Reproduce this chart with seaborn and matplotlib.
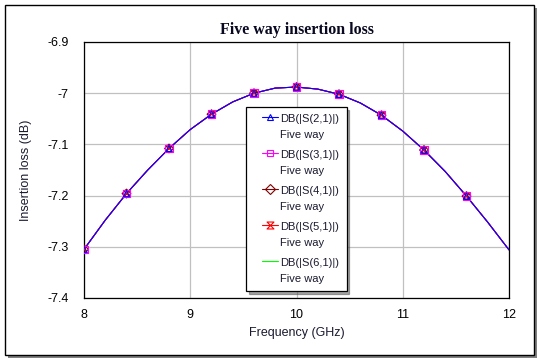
import matplotlib
matplotlib.use("Agg")
import matplotlib.pyplot as plt
import seaborn as sns
import pandas as pd
from matplotlib.lines import Line2D
from matplotlib.patches import Rectangle
from matplotlib.path import Path
from matplotlib.legend_handler import HandlerLine2D
from matplotlib.transforms import Affine2D

# ---- data ----
freq_line = [8.0, 8.2, 8.4, 8.6, 8.8, 9.0, 9.2, 9.4, 9.6, 9.8, 10.0,
             10.2, 10.4, 10.6, 10.8, 11.0, 11.2, 11.4, 11.6, 11.8, 12.0]
loss_line = [-7.305, -7.248, -7.196, -7.150, -7.108, -7.071, -7.041, -7.017, -7.000, -6.990, -6.988,
             -6.992, -7.002, -7.019, -7.043, -7.074, -7.111, -7.153, -7.201, -7.252, -7.306]
freq_marker = [8.0, 8.4, 8.8, 9.2, 9.6, 10.0, 10.4, 10.8, 11.2, 11.6]
loss_marker = [-7.305, -7.196, -7.108, -7.041, -7.000, -6.988, -7.002, -7.043, -7.111, -7.201]
series = ["DB(|S(2,1)|)", "DB(|S(3,1)|)", "DB(|S(4,1)|)", "DB(|S(5,1)|)", "DB(|S(6,1)|)"]
series_note = "Five way"
x_ticks = [8, 9, 10, 11, 12]
y_ticks = [-6.9, -7.0, -7.1, -7.2, -7.3, -7.4]
y_tick_labels = ["-6.9", "-7", "-7.1", "-7.2", "-7.3", "-7.4"]
title = "Five way insertion loss"
x_label = "Frequency (GHz)"
y_label = "Insertion loss (dB)"

hourglass = Path([(-1, 1), (1, 1), (-1, -1), (1, -1), (-1, 1)],
                 [Path.MOVETO, Path.LINETO, Path.LINETO, Path.LINETO, Path.CLOSEPOLY])
styles = {
    "DB(|S(2,1)|)": dict(color="#0000FF", marker="^"),
    "DB(|S(3,1)|)": dict(color="#FF00FF", marker="s"),
    "DB(|S(4,1)|)": dict(color="#800000", marker="D"),
    "DB(|S(5,1)|)": dict(color="#FF0000", marker=hourglass),
    "DB(|S(6,1)|)": dict(color="#00FF00", marker=None),
}

sns.set_theme(style="white")
plt.rcParams["font.family"] = ["Liberation Sans", "DejaVu Sans"]

fig = plt.figure(figsize=(5.38, 3.6), dpi=100)
ax = fig.add_axes([84 / 538, 1 - 298 / 360, 425 / 538, 256 / 360])

# draw order: green at bottom, blue on top
draw_order = ["DB(|S(6,1)|)", "DB(|S(5,1)|)", "DB(|S(4,1)|)", "DB(|S(3,1)|)", "DB(|S(2,1)|)"]
dfl = pd.DataFrame({"f": freq_line, "v": loss_line})
dfm = pd.DataFrame({"f": freq_marker, "v": loss_marker})
for i, name in enumerate(draw_order):
    st = styles[name]
    sns.lineplot(data=dfl, x="f", y="v", ax=ax, color=st["color"], lw=0.75, zorder=3 + i)
    if st["marker"] is not None:
        ax.scatter(dfm["f"], dfm["v"], marker=st["marker"], s=30 if st["marker"] == "s" else 20,
                   facecolors="none", edgecolors=st["color"], linewidths=0.8, zorder=10 + i)

ax.set_xlim(8, 12)
ax.set_ylim(-7.4, -6.9)
ax.set_xticks(x_ticks)
ax.set_xticklabels([str(t) for t in x_ticks])
ax.set_yticks(y_ticks)
ax.set_yticklabels(y_tick_labels)
ax.tick_params(axis="both", length=0, labelsize=9, colors="black")
ax.tick_params(axis="x", pad=8)
ax.tick_params(axis="y", pad=11)
ax.grid(True, color="#c0c0c0", lw=0.9)
ax.set_axisbelow(True)
for sp in ax.spines.values():
    sp.set_color("black")
    sp.set_linewidth(0.9)
ax.set_xlabel(x_label, fontsize=9, color="#1a1a30", labelpad=4)
ax.set_ylabel(y_label, fontsize=9, color="#1a1a30", labelpad=11)
ax.set_title(title, fontsize=11.5, fontweight="bold", family=["Liberation Serif", "DejaVu Serif"],
             color="#080820", pad=6)

LINE_STEP_PT = 7.1  # upward shift of the legend handle, in points


class UpHandler(HandlerLine2D):
    """Line handle shifted up to sit beside the first line of a two-line label."""
    def create_artists(self, legend, orig_handle, xdescent, ydescent, width, height, fontsize, trans):
        arts = super().create_artists(legend, orig_handle, xdescent, ydescent, width, height,
                                      fontsize, trans)
        shift = Affine2D().translate(0, LINE_STEP_PT) + trans
        for a in arts:
            a.set_transform(shift)
        return arts


handles, labels = [], []
for name in series:
    st = styles[name]
    h = Line2D([], [], color=st["color"], lw=0.8, marker=st["marker"], markersize=5,
               markerfacecolor="none", markeredgecolor=st["color"], markeredgewidth=0.8)
    handles.append(h)
    labels.append(name + "\n" + series_note)
fs = 8
hmap = {h: UpHandler(xpad=0.8) for h in handles}
leg = ax.legend(handles, labels, loc="upper left", bbox_to_anchor=(0.381, 0.746),
                fontsize=fs, frameon=True, fancybox=False, shadow=True, framealpha=1,
                edgecolor="black", labelspacing=0.95, handlelength=2.25, handletextpad=0.2,
                borderpad=0.65, borderaxespad=0, handler_map=hmap)
leg.get_frame().set_linewidth(0.9)
leg.set_zorder(20)
for t in leg.get_texts():
    t.set_color("#1a1a30")
    t.set_linespacing(1.68)

# outer frame with shadow
fig.patches.append(Rectangle((7.5 / 538, 1 - 358 / 360), 529.5 / 538, 350.5 / 360,
                             transform=fig.transFigure, facecolor="#808080", edgecolor="none", zorder=-2))
fig.patches.append(Rectangle((4.5 / 538, 1 - 355 / 360), 529.5 / 538, 350.5 / 360,
                             transform=fig.transFigure, facecolor="white", edgecolor="black",
                             lw=1.0, zorder=-1))

fig.savefig("out.png", dpi=100)
